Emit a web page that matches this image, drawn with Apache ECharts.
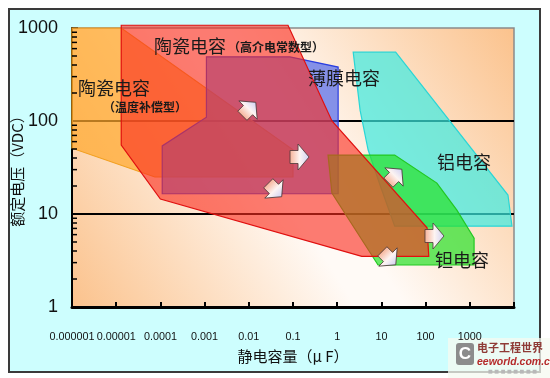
<!DOCTYPE html>
<html>
<head>
<meta charset="utf-8">
<script src="https://cdn.jsdelivr.net/npm/echarts@6/dist/echarts.min.js"></script>
<style>
html, body { margin: 0; padding: 0; background: #fff; }
#main { width: 550px; height: 378px; }
</style>
</head>
<body>
<div id="main"></div>
<script>
// capacitance (uF) / rated voltage (VDC) ranges
var ceramicTempComp = [[1e-6, 1000], [1.3e-5, 1000], [0.1, 49], [0.1, 25], [7.5e-5, 25], [1e-6, 51]];
var filmCap = [[0.0011, 490], [0.085, 490], [1.05, 380], [1.05, 16.5], [1.1e-4, 16.5], [1.1e-4, 54], [0.0011, 110]];
var aluminumCap = [[2.3, 550], [21, 550], [7300, 16], [9000, 7.4], [20, 7.4], [9.3, 20.5], [5, 49], [3.3, 130]];
var tantalumCap = [[0.62, 43], [20, 43], [180, 21.5], [510, 11], [1250, 5.5], [1250, 2.83], [8.4, 2.83], [0.76, 16.8]];
var ceramicHighK = [[1.3e-5, 1070], [0.077, 1070], [0.76, 100], [108, 7.1], [118, 3.5], [3.6, 3.5], [1e-4, 14.5], [1.3e-5, 55]];

// trend arrows: capacitance, voltage, direction (deg)
var arrowX = [0.0096, 0.13, 0.037, 19.3, 147, 14.1];
var arrowY = [131, 41, 18.6, 25, 5.8, 3.45];
var arrowDir = [45, 0, -45, 45, 0, -45];

// region names
var bigLabels = [[7.2e-5, 640, '陶瓷电容'], [1.37e-6, 226, '陶瓷电容'], [0.218, 290, '薄膜电容'], [181, 36, '铝电容'], [163, 3.2, '钽电容']];
var smallLabels = [[3.38e-3, 625, '（高介电常数型）'], [5.0e-6, 141, '（温度补偿型）']];

var yMinorTicks = [2, 3, 4, 5, 6, 7, 8, 9, 20, 30, 40, 50, 60, 70, 80, 90, 200, 300, 400, 500, 600, 700, 800, 900];

var numFont = '"Liberation Sans Narrow", "Liberation Sans", sans-serif';

var chart = echarts.init(document.getElementById('main'));

function polySeries(pts, fill, stroke) {
    return {
        type: 'custom',
        silent: true,
        clip: false,
        data: [pts[0]],
        renderItem: function (params, api) {
            return {
                type: 'polygon',
                shape: { points: pts.map(function (p) { return api.coord(p); }) },
                style: { fill: fill, stroke: stroke, lineWidth: 1.2 }
            };
        }
    };
}

function labelSeries(items, font) {
    return {
        type: 'custom',
        silent: true,
        clip: false,
        z: 5,
        data: items.map(function (d) { return [d[0], d[1]]; }),
        renderItem: function (params, api) {
            var p = api.coord([api.value(0), api.value(1)]);
            return {
                type: 'text', x: p[0], y: p[1],
                style: { text: items[params.dataIndex][2], font: font, fill: '#1a1a1a', align: 'left', verticalAlign: 'middle' }
            };
        }
    };
}

var arrowFill = new echarts.graphic.LinearGradient(0, 0, 1, 0, [
    { offset: 0, color: '#f6b196' },
    { offset: 0.5, color: '#fdf4f2' },
    { offset: 1, color: '#cfd0f3' }
]);

function expLabel(v) {
    var e = Math.round(Math.log(v) / Math.LN10);
    if (e >= 4) return '';
    if (e < 0) return '0.' + new Array(-e).join('0') + '1';
    return '1' + new Array(e + 1).join('0');
}

var options = {
    backgroundColor: '#fff',
    animation: false,
    graphic: [
        {
            type: 'rect', z: -10, left: 8, top: 8,
            shape: { width: 531, height: 363 },
            style: { fill: '#cdfefe', stroke: '#3a3a3a', lineWidth: 2 }
        },
        {
            type: 'group', left: 448, top: 338, z: 100,
            children: [
                { type: 'rect', shape: { x: 0, y: 0, width: 102, height: 40 }, style: { fill: 'rgba(245,250,240,0.75)' } },
                { type: 'rect', shape: { x: 8, y: 5, width: 18, height: 22, r: 3 }, style: { fill: '#8c8c8c' } },
                { type: 'text', x: 17, y: 16, style: { text: 'C', font: 'bold 17px "Liberation Sans"', fill: '#fff', align: 'center', verticalAlign: 'middle' } },
                { type: 'text', x: 29, y: 10, style: { text: '电子工程世界', font: 'bold 11px "Noto Sans CJK SC"', fill: '#8f3b36', verticalAlign: 'middle' } },
                { type: 'text', x: 29, y: 24, style: { text: 'eeworld.com.cn', font: 'italic bold 10.5px "Liberation Sans"', fill: '#b52a2a', verticalAlign: 'middle' } },
                { type: 'text', x: 40, y: 34, style: { text: '■ ■ ■ ■ ■ ■ ■ ■', font: '5px "DejaVu Sans"', fill: '#b8b8b8', verticalAlign: 'middle' } }
            ]
        }
    ],
    grid: {
        left: 72, right: 36, top: 28, bottom: 71,
        containLabel: false,
        outerBoundsMode: 'none',
        show: true,
        borderColor: '#8a8a8a',
        borderWidth: 1.5,
        backgroundColor: new echarts.graphic.LinearGradient(0, 1, 1, 0, [
            { offset: 0, color: '#fbc28c' },
            { offset: 0.46, color: '#fffaf6' },
            { offset: 0.54, color: '#fffaf6' },
            { offset: 1, color: '#fbc28c' }
        ])
    },
    xAxis: {
        type: 'log', logBase: 10, min: 1e-6, max: 1e4, interval: 1,
        name: '静电容量（μ F）',
        nameLocation: 'middle', nameGap: 42, nameMoveOverlap: false,
        nameTextStyle: { fontFamily: 'Noto Sans CJK SC', fontSize: 15, color: '#111' },
        axisLine: { lineStyle: { color: '#000', width: 3 } },
        axisTick: { inside: true, length: 5, lineStyle: { color: '#000', width: 2 } },
        axisLabel: {
            margin: 25, fontFamily: numFont, fontSize: 10.8, color: '#111',
            showMinLabel: true, hideOverlap: false,
            formatter: expLabel
        },
        splitLine: { show: false }
    },
    yAxis: {
        type: 'log', logBase: 10, min: 1, max: 1000, interval: 1,
        name: '额定电压（VDC）',
        nameLocation: 'middle', nameGap: 47, nameRotate: 90, nameMoveOverlap: false,
        nameTextStyle: { fontFamily: 'Noto Sans CJK SC', fontSize: 15, color: '#111' },
        axisLine: { lineStyle: { color: '#000', width: 2 } },
        axisTick: { inside: true, length: 6, lineStyle: { color: '#000', width: 1.5 } },
        axisLabel: {
            margin: 14, fontFamily: numFont, fontSize: 18, color: '#111',
            formatter: function (v) { return String(Math.round(v)); }
        },
        splitLine: { show: true, showMinLine: false, showMaxLine: false, lineStyle: { color: '#000', width: 1.8 } }
    },
    series: [
        polySeries(ceramicTempComp, 'rgba(255,168,45,0.72)', '#f2a020'),
        polySeries(filmCap, 'rgba(70,95,235,0.66)', '#2a3ee0'),
        polySeries(aluminumCap, 'rgba(60,235,225,0.7)', '#2ad6d6'),
        polySeries(tantalumCap, 'rgba(40,225,40,0.7)', '#22c822'),
        polySeries(ceramicHighK, 'rgba(250,45,30,0.62)', '#e01010'),
        {
            type: 'custom', silent: true, clip: false, z: 4,
            data: yMinorTicks.map(function (v) { return [1e-6, v]; }),
            renderItem: function (params, api) {
                var p = api.coord([api.value(0), api.value(1)]);
                return { type: 'line', shape: { x1: p[0], y1: p[1], x2: p[0] + 5, y2: p[1] }, style: { stroke: '#000', lineWidth: 1.5 } };
            }
        },
        {
            type: 'custom', silent: true, clip: false, z: 6,
            data: arrowX.map(function (x, i) { return [x, arrowY[i], arrowDir[i]]; }),
            renderItem: function (params, api) {
                var p = api.coord([api.value(0), api.value(1)]);
                return {
                    type: 'polygon', x: p[0], y: p[1], rotation: api.value(2) * Math.PI / 180,
                    shape: { points: [[-8, -6.5], [0, -6.5], [0, -13], [11, 0], [0, 13], [0, 6.5], [-8, 6.5]] },
                    style: { fill: arrowFill, stroke: '#4a3838', lineWidth: 0.8 }
                };
            }
        },
        labelSeries(bigLabels, '18px "Noto Sans CJK SC"'),
        labelSeries(smallLabels, 'bold 12px "Noto Sans CJK SC"')
    ]
};
chart.setOption(options, true);
</script>
</body>
</html>
